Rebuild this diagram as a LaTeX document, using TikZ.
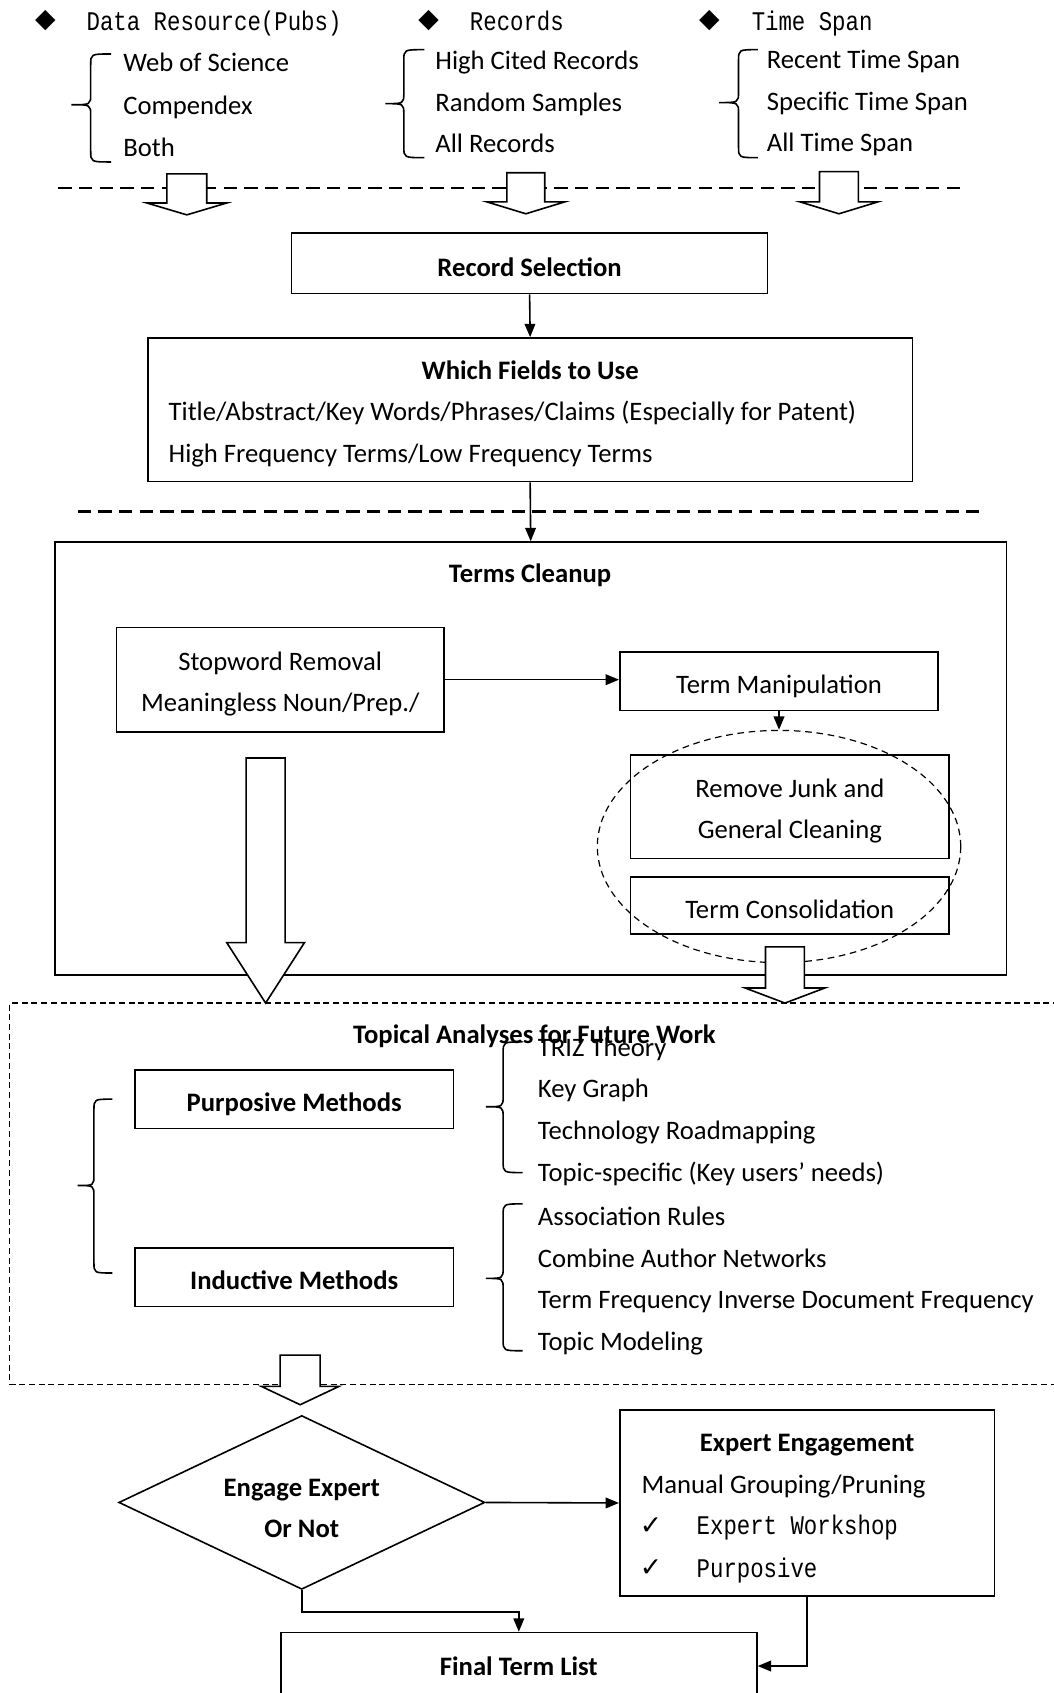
\documentclass[tikz,border=0pt]{standalone}
\usepackage{fontspec}
\setmainfont{Carlito}
\newfontfamily\monof[FakeStretch=0.83]{Liberation Mono}
\newfontfamily\symf{DejaVu Sans}
\usetikzlibrary{arrows.meta,shapes.geometric,fit}
\newcommand{\fs}{\fontsize{20}{24}\selectfont}
\newcommand{\mybrace}[6]{%
\draw[brc] (#3,#4) .. controls (#2,#4) .. (#2,#4+10) -- (#2,#5-10) .. controls (#2,#5) .. (#1,#5) .. controls (#2,#5) .. (#2,#5+10) -- (#2,#6-10) .. controls (#2,#6) .. (#3,#6);}
\newcommand{\blockarrow}[6]{%
\draw[blk] (#1-#2,#3) -- (#1+#2,#3) -- (#1+#2,#4) -- (#1+#5,#4) -- (#1,#6) -- (#1-#5,#4) -- (#1-#2,#4) -- cycle;}
\begin{document}
\begin{tikzpicture}[x=0.81pt,y=-0.81pt,
  box/.style={draw, line width=1.2pt, inner sep=0pt},
  txt/.style={inner sep=0pt, font=\fs, text height=16pt, text depth=2pt},
  btxt/.style={txt, font=\fs\bfseries},
  mono/.style={inner sep=0pt, font=\monof\fontsize{20.2}{24}\selectfont, text height=16pt, text depth=2pt},
  sym/.style={inner sep=0pt, font=\symf\fontsize{20}{24}\selectfont},
  chk/.style={inner sep=0pt, font=\symf\fontsize{20}{24}\selectfont},
  arr/.style={line width=1.2pt, -{Triangle[length=10pt,width=8pt]}},
  blk/.style={draw, fill=white, line width=1.2pt, line join=miter},
  brc/.style={line width=1.2pt},
  sep/.style={line width=2pt, dash pattern=on 10pt off 5.5pt},
  tdash/.style={line width=0.9pt, dash pattern=on 4.5pt off 2.8pt},
  edash/.style={line width=0.9pt, dash pattern=on 5pt off 3.5pt}]
\clip (0,0) rectangle (976,1568);
\fill[white] (0,0) rectangle (976,1568);

% ---- top: three option groups
\node[sym] (d1) at (42,19) {◆};
\node[mono, anchor=west] (h1) at (80,20) {Data Resource(Pubs)};
\node[sym] (d2) at (397,19) {◆};
\node[mono, anchor=west] (h2) at (435,20) {Records};
\node[sym] (d3) at (657,19) {◆};
\node[mono, anchor=west] (h3) at (696,20) {Time Span};

\mybrace{66}{84}{103}{50}{97}{150}
\node[txt, anchor=west] (a1) at (114,58) {Web of Science};
\node[txt, anchor=west] (a2) at (114,97) {Compendex};
\node[txt, anchor=west] (a3) at (114,136) {Both};

\mybrace{357}{374}{393}{46}{96}{146}
\node[txt, anchor=west] (b1) at (403,56) {High Cited Records};
\node[txt, anchor=west] (b2) at (403,95) {Random Samples};
\node[txt, anchor=west] (b3) at (403,133) {All Records};

\mybrace{666}{684}{702}{46}{95}{146}
\node[txt, anchor=west] (c1) at (710,55) {Recent Time Span};
\node[txt, anchor=west] (c2) at (710,94) {Specific Time Span};
\node[txt, anchor=west] (c3) at (710,132) {All Time Span};

\draw[sep] (54,174) -- (889,174);
\blockarrow{173}{18.5}{161}{188}{37}{199}
\blockarrow{487}{17.5}{160}{187}{36}{198}
\blockarrow{777}{18}{159}{187}{36}{198}

% ---- record selection and fields
\node[box, fit={(270,216) (711,272)}] (rs) {};
\node[btxt] (rst) at (490.5,247) {Record Selection};

\node[box, fit={(137,313) (845,446)}] (wf) {};
\node[btxt] (wft) at (491,343) {Which Fields to Use};
\node[txt, anchor=west] (wf1) at (156,381) {Title/Abstract/Key Words/Phrases/Claims (Especially for Patent)};
\node[txt, anchor=west] (wf2) at (156,420) {High Frequency Terms/Low Frequency Terms};

\draw[arr] (rs.south) -- (wf.north);

\draw[sep] (72,474) -- (907,474);

% ---- terms cleanup
\node[box, fit={(51,502) (932,903)}] (tc) {};
\node[btxt] (tct) at (491,531) {Terms Cleanup};
\draw[arr] (wf.south) -- (tc.north);

\node[box, fit={(108,581) (411,678)}] (sw) {};
\node[txt] (sw1) at (259.5,612) {Stopword Removal};
\node[txt] (sw2) at (259.5,650) {Meaningless Noun/Prep./};

\node[box, fit={(574,604) (869,658)}] (tm) {};
\node[txt] (tmt) at (721.5,634) {Term Manipulation};

\node[draw, ellipse, edash, inner sep=0pt, minimum width=272.6pt, minimum height=174.2pt] (ell) at (721.5,784) {};

\node[box, fit={(584,699) (879,795)}] (rj) {};
\node[txt] (rj1) at (731.5,730) {Remove Junk and};
\node[txt] (rj2) at (731.5,768) {General Cleaning};

\node[box, fit={(584,812) (879,865)}] (tcons) {};
\node[txt] (tconst) at (731.5,842) {Term Consolidation};

\draw[arr] (sw.east) -- (sw.east -| tm.west);
\draw[arr] (tm.south) -- (ell.north);

% ---- topical analyses
\draw[tdash] (990,929) -- (9,929) -- (9,1282) -- (990,1282);

\blockarrow{246}{18}{702}{873}{36}{929}
\blockarrow{727}{18}{877}{915}{37}{929}

\node[btxt] (tat) at (495,958) {Topical Analyses for Future Work};

\node[box, fit={(125,991) (420,1045)}] (pm) {};
\node[btxt] (pmt) at (272.5,1021) {Purposive Methods};
\node[box, fit={(125,1156) (420,1210)}] (im) {};
\node[btxt] (imt) at (272.5,1186) {Inductive Methods};

\mybrace{72}{87}{104}{1018}{1098}{1179}
\mybrace{450}{466}{484}{965}{1025}{1086}
\mybrace{450}{466}{484}{1115}{1184}{1251}

\node[txt, anchor=west] (p1) at (498,970) {TRIZ Theory};
\node[txt, anchor=west] (p2) at (498,1008) {Key Graph};
\node[txt, anchor=west] (p3) at (498,1047) {Technology Roadmapping};
\node[txt, anchor=west] (p4) at (498,1086) {Topic-specific (Key users’ needs)};
\node[txt, anchor=west] (i1) at (498,1126) {Association Rules};
\node[txt, anchor=west] (i2) at (498,1165) {Combine Author Networks};
\node[txt, anchor=west] (i3) at (498,1203) {Term Frequency Inverse Document Frequency};
\node[txt, anchor=west] (i4) at (498,1242) {Topic Modeling};

\blockarrow{278}{18.5}{1255}{1284}{36}{1301}

% ---- expert engagement
\node[draw, diamond, line width=1.2pt, inner sep=0pt, minimum width=274.6pt, minimum height=130.4pt] (dia) at (279.5,1391.5) {};
\node[btxt] (dia1) at (279.5,1377) {Engage Expert};
\node[btxt] (dia2) at (279.5,1415) {Or Not};

\node[box, fit={(574,1306) (921,1478)}] (ex) {};
\node[btxt] (ext) at (747.5,1336) {Expert Engagement};
\node[txt, anchor=west] (ex1) at (594,1375) {Manual Grouping/Pruning};
\node[chk] (ck1) at (603,1413) {✓};
\node[mono, anchor=west] (ex2) at (645,1413) {Expert Workshop};
\node[chk] (ck2) at (603,1452) {✓};
\node[mono, anchor=west] (ex3) at (645,1452) {Purposive};

\draw[arr] (dia.east) -- (ex.west);

\node[box, fit={(260,1512) (701,1600)}] (fb) {};
\node[btxt] (ftt) at (480.5,1543) {Final Term List};

\draw[arr] (dia.south) -- ++(0,20) -| (fb.north);
\draw[arr] (ex.south) |- (ftt -| fb.east);
\end{tikzpicture}
\end{document}
